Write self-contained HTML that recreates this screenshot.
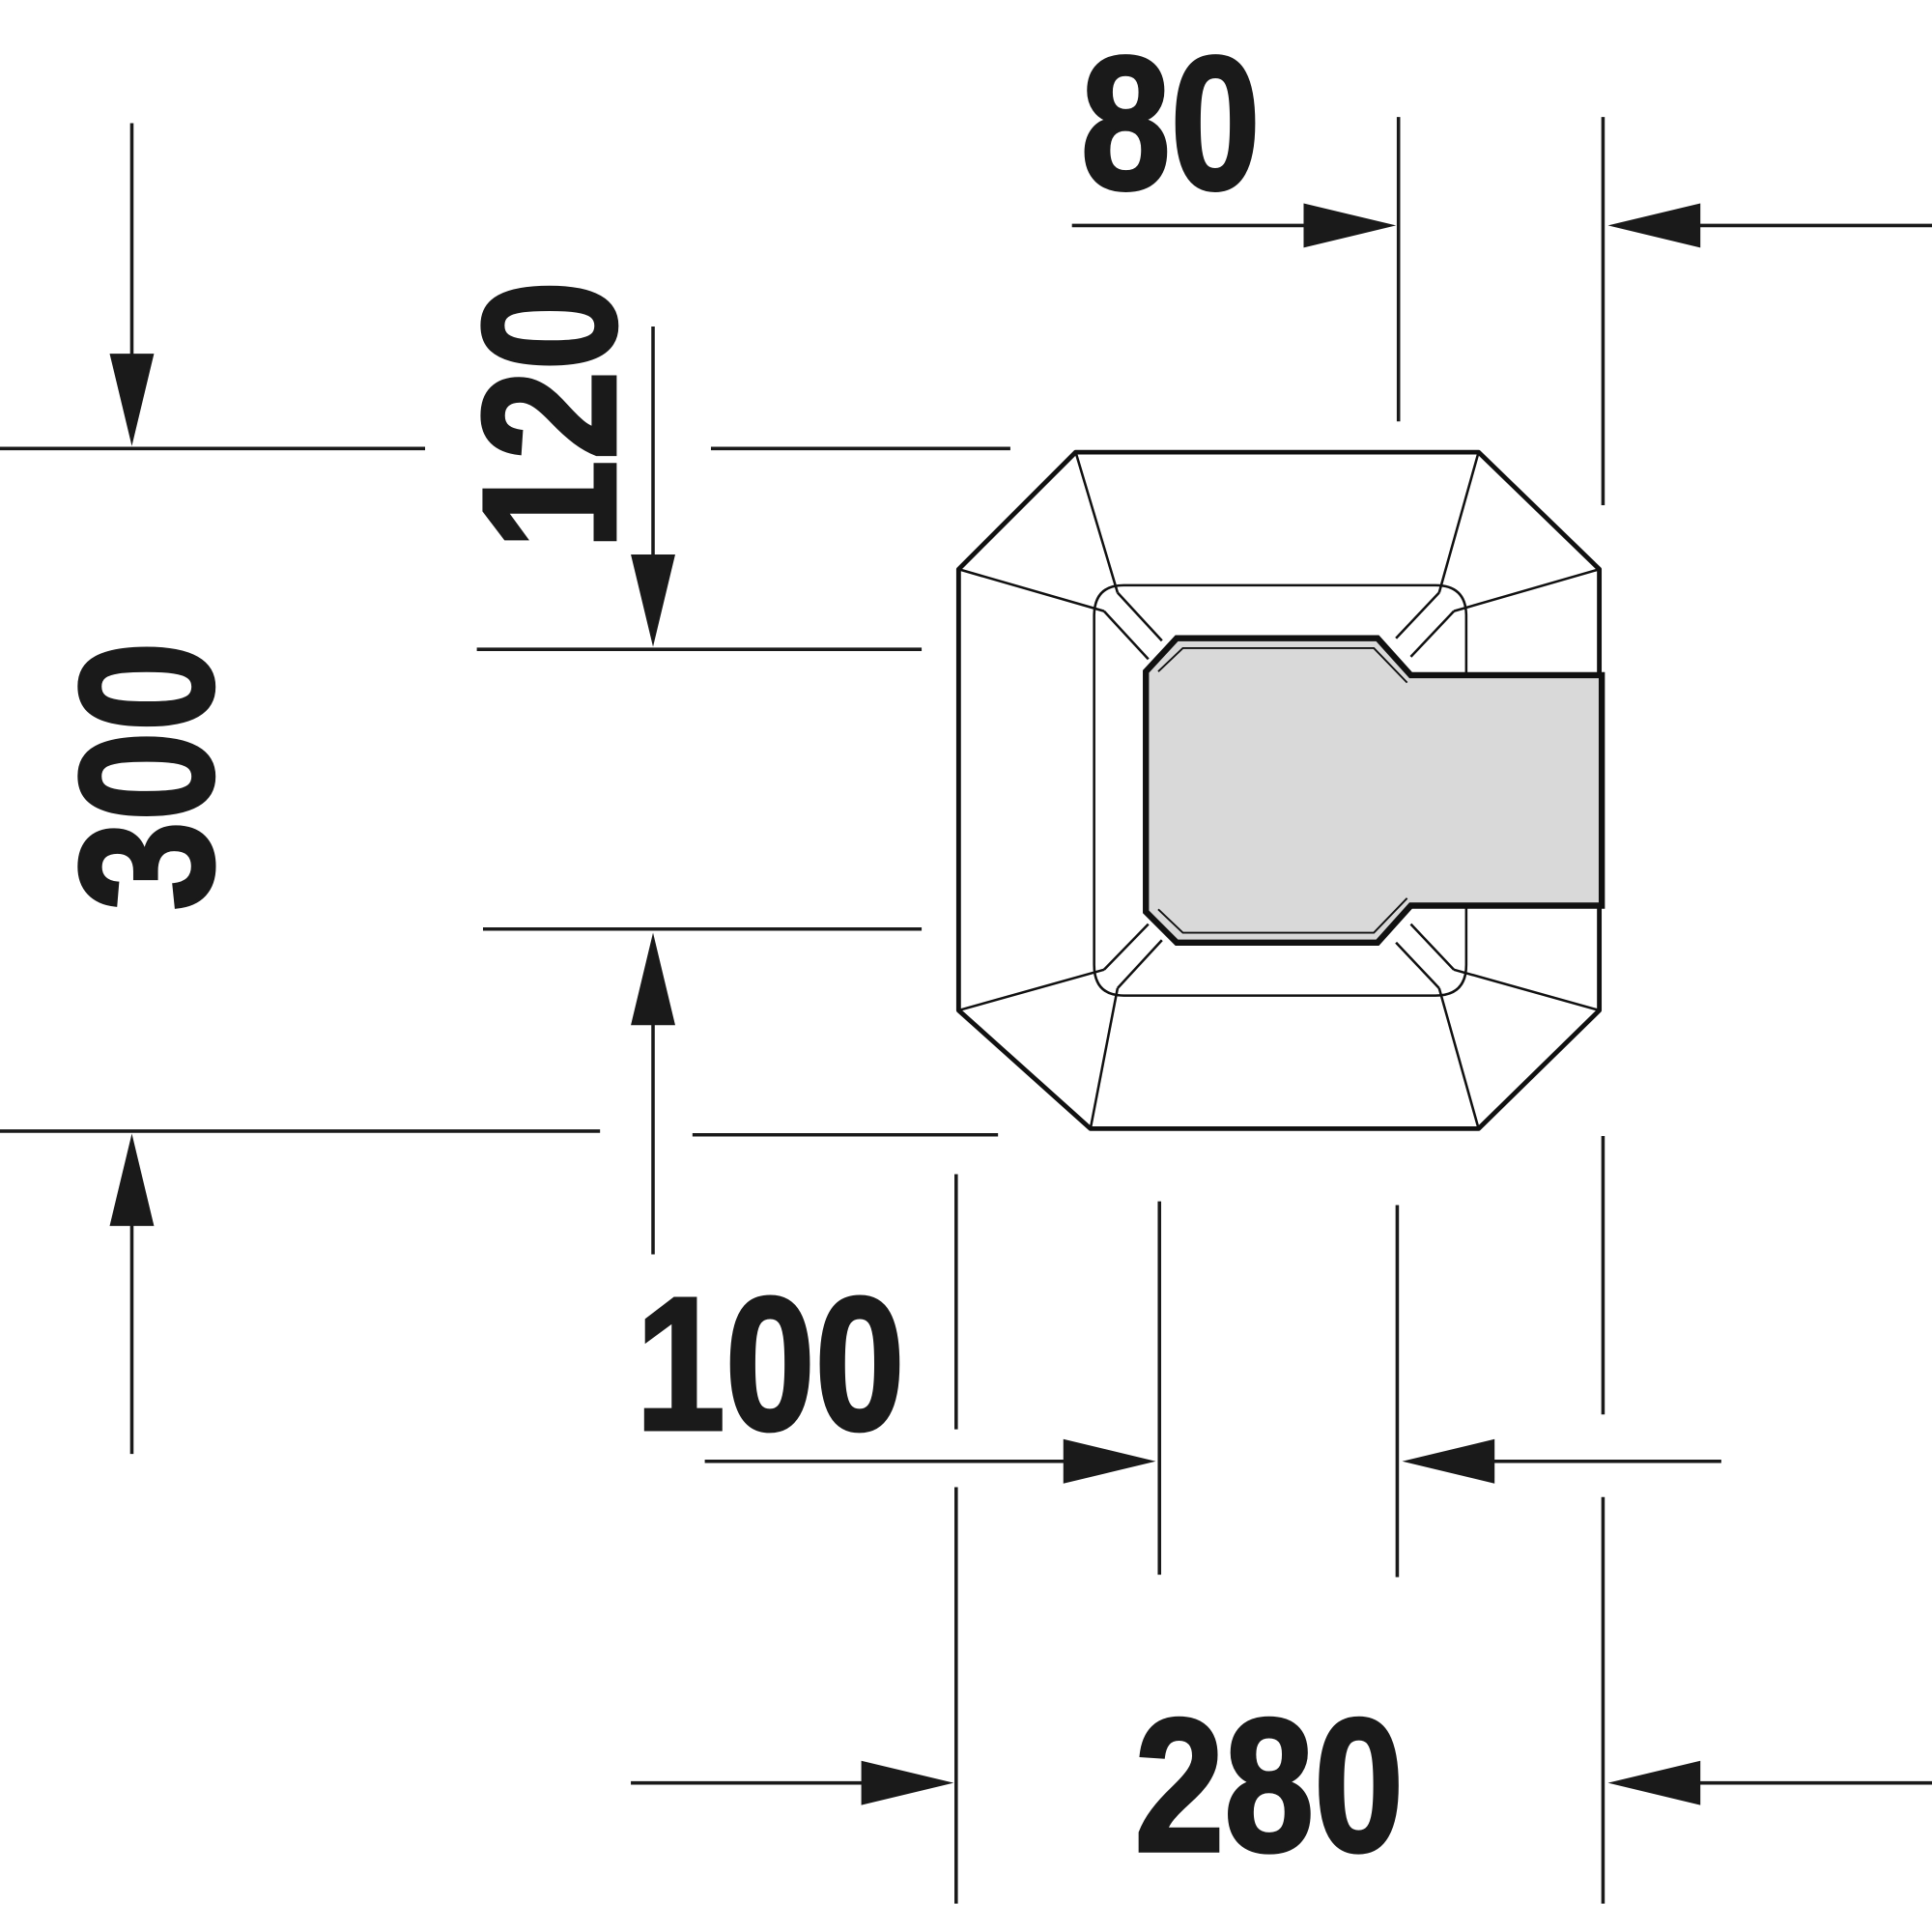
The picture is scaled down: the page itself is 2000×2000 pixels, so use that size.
<!DOCTYPE html>
<html><head><meta charset="utf-8"><style>html,body{margin:0;padding:0;background:#fff}svg{display:block}</style></head>
<body>
<svg width="2000" height="2000" viewBox="0 0 1568 1568" xmlns="http://www.w3.org/2000/svg">
<g stroke="#1a1a1a" stroke-width="2.8" fill="none">
<line x1="107" y1="100" x2="107" y2="300"/>
<line x1="0" y1="364" x2="345" y2="364"/>
<line x1="577" y1="364" x2="820" y2="364"/>
<line x1="387" y1="527" x2="748" y2="527"/>
<line x1="392" y1="754" x2="748" y2="754"/>
<line x1="0" y1="918" x2="487" y2="918"/>
<line x1="562" y1="921" x2="810" y2="921"/>
<line x1="107" y1="980" x2="107" y2="1180"/>
<line x1="530" y1="265" x2="530" y2="470"/>
<line x1="530" y1="810" x2="530" y2="1018"/>
<line x1="870" y1="183" x2="1080" y2="183"/>
<line x1="1135" y1="95" x2="1135" y2="342"/>
<line x1="1301" y1="95" x2="1301" y2="410"/>
<line x1="1360" y1="183" x2="1568" y2="183"/>
<line x1="776" y1="953" x2="776" y2="1160"/>
<line x1="776" y1="1207" x2="776" y2="1545"/>
<line x1="941" y1="975" x2="941" y2="1278"/>
<line x1="1134" y1="978" x2="1134" y2="1280"/>
<line x1="1301" y1="922" x2="1301" y2="1148"/>
<line x1="1301" y1="1215" x2="1301" y2="1545"/>
<line x1="572" y1="1186" x2="880" y2="1186"/>
<line x1="1195" y1="1186" x2="1397" y2="1186"/>
<line x1="512" y1="1447" x2="720" y2="1447"/>
<line x1="1360" y1="1447" x2="1568" y2="1447"/>
</g>
<g fill="#1a1a1a">
<polygon points="107,362 89,287 125,287"/>
<polygon points="107,920 89,995 125,995"/>
<polygon points="530,525 512,450 548,450"/>
<polygon points="530,757 512,832 548,832"/>
<polygon points="1133,183 1058,165 1058,201"/>
<polygon points="1305,183 1380,165 1380,201"/>
<polygon points="938,1186 863,1168 863,1204"/>
<polygon points="1138,1186 1213,1168 1213,1204"/>
<polygon points="774,1447 699,1429 699,1465"/>
<polygon points="1305,1447 1380,1429 1380,1465"/>
</g>
<polygon points="955,518 1118,518 1145,548 1300,548 1300,735 1145,735 1118,765 955,765 930,740 930,545" fill="#d9d9d9" stroke="#111" stroke-width="5"/>
<polyline points="940,545 960,526 1115,526 1142,554" fill="none" stroke="#111" stroke-width="1.5"/>
<polyline points="940,738 960,757 1115,757 1142,729" fill="none" stroke="#111" stroke-width="1.5"/>
<g stroke="#111" stroke-width="3.8" fill="none" stroke-linejoin="round">
<polyline points="1298,548 1298,462 1200,367 873,367 778,462 778,820 885,916 1200,916 1298,820 1298,735"/>
</g>
<g stroke="#111" stroke-width="2" fill="none">
<path d="M1190,548 V500 Q1190,475 1165,475 H912 Q888,475 888,500 V783 Q888,808 912,808 H1165 Q1190,808 1190,783 V735"/>
<line x1="873" y1="367" x2="907" y2="481"/>
<line x1="778" y1="462" x2="896" y2="496"/>
<line x1="1200" y1="367" x2="1168" y2="481"/>
<line x1="1298" y1="462" x2="1180" y2="496"/>
<line x1="885" y1="916" x2="907" y2="802"/>
<line x1="778" y1="820" x2="896" y2="787"/>
<line x1="1200" y1="916" x2="1168" y2="802"/>
<line x1="1298" y1="820" x2="1180" y2="787"/>
<line x1="907" y1="481" x2="943" y2="520"/>
<line x1="896" y1="496" x2="932" y2="535"/>
<line x1="1168" y1="481" x2="1133" y2="518"/>
<line x1="1180" y1="496" x2="1145" y2="533"/>
<line x1="907" y1="802" x2="943" y2="763"/>
<line x1="896" y1="787" x2="932" y2="750"/>
<line x1="1168" y1="802" x2="1133" y2="765"/>
<line x1="1180" y1="787" x2="1145" y2="750"/>
</g>
<g font-family="Liberation Sans, sans-serif" font-weight="bold" font-size="154" fill="#1a1a1a" stroke="#1a1a1a" stroke-width="3" text-anchor="middle">
<text transform="translate(950,153) scale(0.85,1)">80</text>
<text transform="translate(625,1160) scale(0.85,1)">100</text>
<text transform="translate(1030,1502) scale(0.85,1)">280</text>
<text transform="translate(172,630) rotate(-90) scale(0.85,1)">300</text>
<text transform="translate(499,337) rotate(-90) scale(0.85,1)">120</text>
</g>
</svg>
</body></html>
